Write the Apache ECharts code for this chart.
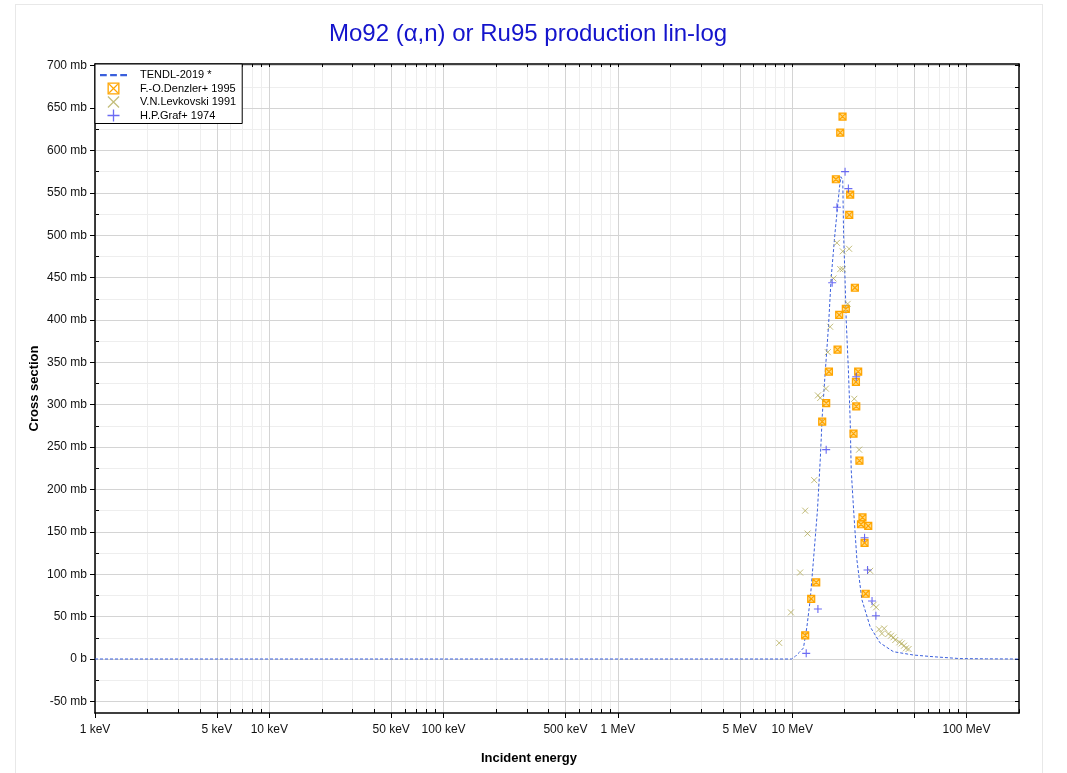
<!DOCTYPE html>
<html><head><meta charset="utf-8">
<script src="https://cdn.jsdelivr.net/npm/echarts@6/dist/echarts.min.js"></script>
<style>
html,body{margin:0;padding:0;background:#fff;}
#frame{position:absolute;left:15px;top:4px;width:1026px;height:800px;border:1px solid #e8e8e8;}
#chart{position:absolute;left:0;top:0;width:1067px;height:773px;}
</style></head>
<body><div id="frame"></div><div id="chart"></div>
<script>
// ---------------- data (energies in MeV, cross sections in mb) ----------------
const titleText = 'Mo92 (\u03b1,n) or Ru95 production lin-log';
const seriesNames = ['TENDL-2019 *', 'F.-O.Denzler+ 1995', 'V.N.Levkovski 1991', 'H.P.Graf+ 1974'];

const tendlE  = [0.001, 9.9, 10.4, 11.0, 11.6, 12.14, 12.68, 13.24, 13.96, 14.48, 14.86, 15.46, 16.14, 16.73, 17.6, 18.6, 19.0, 19.5, 19.7, 20.1, 20.4, 21.0, 21.5, 21.8, 22.5, 23.5, 25.1, 28.0, 31.9, 38.1, 49.6, 64.4, 91.7, 130, 200];
const tendlXS = [0, 0, 3, 8, 13, 38, 70, 117, 176, 235, 286, 338, 392, 450, 503, 553, 569, 565, 503, 447, 400, 341, 282, 223, 176, 117, 70, 38, 19, 8.6, 4.7, 2.7, 0.5, 0.2, 0];

const denzlerE  = [11.87, 12.85, 13.73, 14.86, 15.66, 16.24, 18.2, 18.6, 17.8, 18.86, 19.44, 20.3, 21.24, 21.5, 22.88, 23.9, 23.2, 23.3, 22.47, 24.3, 25.3, 24.8, 27.3, 26.0, 26.4];
const denzlerXS = [28, 71, 90.5, 280, 302, 339, 365, 406, 566, 621, 640, 413, 524, 548, 438, 339, 327, 298, 266, 234, 167, 159, 157, 137, 77];

const levkovskiE  = [8.42, 9.83, 11.1, 11.87, 12.24, 13.37, 14.04, 14.48, 15.6, 16.0, 16.5, 17.25, 18.05, 18.86, 19.5, 19.5, 21.2, 20.8, 22.7, 24.2, 28.0, 29.3, 30.3, 31.5, 32.7, 33.7, 35.6, 36.9, 38.1, 39.0, 41.2, 42.5, 43.8, 44.9, 46.5];
const levkovskiXS = [19, 55, 102, 175, 148, 211, 311, 308, 319, 362, 392, 449, 491, 460, 460, 481, 484, 419, 307, 247, 104, 64, 61, 35, 30, 36, 29.5, 27.5, 25.6, 22.4, 19.7, 18.4, 15.7, 12.6, 11.8];

const grafE  = [12.03, 14.04, 15.66, 16.95, 18.05, 20.1, 21.0, 23.3, 26.0, 27.05, 28.7, 30.2];
const grafXS = [6.7, 59, 247, 444, 533, 575, 555, 333, 143, 105, 68.5, 51];

// axis ticks
const xMajorTicks = [0.001, 0.005, 0.01, 0.05, 0.1, 0.5, 1, 5, 10, 50, 100];
const xTickLabels = [0.001, 0.005, 0.01, 0.05, 0.1, 0.5, 1, 5, 10, 100];
const xDecades = [0.001, 0.01, 0.1, 1, 10, 100];
const yMajorTicks = [-50, 0, 50, 100, 150, 200, 250, 300, 350, 400, 450, 500, 550, 600, 650, 700];
const yMinorTicks = [-50, -25, 0, 25, 50, 75, 100, 125, 150, 175, 200, 225, 250, 275, 300, 325, 350, 375, 400, 425, 450, 475, 500, 525, 550, 575, 600, 625, 650, 675, 700];

// ---------------- build ----------------
const xMinorTicks = [];
xDecades.forEach(d => { for (let k = 1; k <= 9; k++) { const v = k * d; if (v <= 200) xMinorTicks.push(v); } });

const FONT = '"Liberation Sans", Arial, Helvetica, sans-serif';
const X_MIN = 0.001, X_MAX = 200, Y_MIN = -63.7, Y_MAX = 702;
const zip = (a, b) => a.map((v, i) => [v, b[i]]);

const COL_TENDL = '#3a5fdc', COL_DENZ = '#ffa500', COL_LEV = '#b4ac5a', COL_GRAF = '#4646f0';
// marker symbols (stroked)
const pathBoxX = 'path://M0,0L10,0L10,10L0,10Z M0,0L10,10 M10,0L0,10';
const pathX = 'path://M0,0L10,10 M10,0L0,10';
const pathPlus = 'path://M5,0L5,10 M0,5L10,5';
// legend icons (filled outlines, exact 10x10 bounds)
const iconDash = 'path://M0,0L6,0L6,2L0,2Z M9,0L15,0L15,2L9,2Z M18,0L24,0L24,2L18,2Z';
const iconX = 'path://M0,0.75L0.75,0L10,9.25L9.25,10Z M9.25,0L10,0.75L0.75,10L0,9.25Z';
const iconPlus = 'path://M4.45,0L5.55,0L5.55,10L4.45,10Z M0,4.45L10,4.45L10,5.55L0,5.55Z';
const iconBoxX = 'path://M0,0L10,0L10,10L0,10Z M1.1,1.1L1.1,8.9L8.9,8.9L8.9,1.1Z M1.1,1.8L1.8,1.1L8.9,8.2L8.2,8.9Z M8.2,1.1L8.9,1.8L1.8,8.9L1.1,8.2Z';

function xFmt(v) {
  if (v < 1) return Math.round(v * 1000) + ' keV';
  return Math.round(v) + ' MeV';
}
function yFmt(v) { return v === 0 ? '0 b' : v + ' mb'; }

const chart = echarts.init(document.getElementById('chart'), null, { renderer: 'canvas' });
chart.setOption({
  animation: false,
  title: {
    text: titleText, left: 329, top: 22, padding: 0,
    textStyle: { color: '#1414cc', fontSize: 24, fontWeight: 'normal', fontFamily: FONT }
  },
  grid: { left: 95, right: 48, top: 64, bottom: 60 },
  legend: {
    orient: 'vertical', left: 95, top: 64, selectedMode: false,
    itemWidth: 27, itemHeight: 12, itemGap: 1.5,
    padding: [5, 6, 2, 5],
    backgroundColor: '#fff', borderColor: '#000', borderWidth: 1, borderRadius: 0,
    textStyle: { fontSize: 11, lineHeight: 12, fontFamily: FONT, color: '#000', padding: [0, 0, 0, 8] },
    data: [
      { name: seriesNames[0], icon: iconDash, itemStyle: { color: COL_TENDL, borderWidth: 0 } },
      { name: seriesNames[1], icon: iconBoxX, itemStyle: { color: COL_DENZ, borderWidth: 0 } },
      { name: seriesNames[2], icon: iconX, itemStyle: { color: COL_LEV, borderWidth: 0 } },
      { name: seriesNames[3], icon: iconPlus, itemStyle: { color: COL_GRAF, borderWidth: 0 } }
    ],
    z: 10
  },
  xAxis: [
    { // major, labels
      type: 'log', position: 'bottom', min: X_MIN, max: X_MAX, z: 1,
      name: 'Incident energy', nameLocation: 'middle', nameGap: 39, nameMoveOverlap: false,
      nameTextStyle: { fontSize: 13, fontWeight: 'bold', fontFamily: FONT, color: '#000', padding: [0, 56, 0, 0] },
      axisLine: { onZero: false, lineStyle: { color: '#000', width: 1.5 } },
      axisTick: { show: true, inside: false, length: 5, customValues: xMajorTicks, lineStyle: { color: '#000' } },
      axisLabel: { customValues: xTickLabels, formatter: xFmt, margin: 11, fontSize: 12, fontFamily: FONT, color: '#111' },
      splitLine: { show: true, lineStyle: { color: '#d4d4d4', width: 1 } }
    },
    { // minor
      type: 'log', position: 'bottom', min: X_MIN, max: X_MAX, z: 0,
      axisLine: { show: false, onZero: false },
      axisTick: { show: true, inside: true, length: 4, customValues: xMinorTicks, lineStyle: { color: '#000' } },
      axisLabel: { show: false },
      splitLine: { show: true, lineStyle: { color: '#eeeeee', width: 1 } }
    },
    { // top frame
      type: 'log', position: 'top', min: X_MIN, max: X_MAX, z: 1,
      axisLine: { show: true, onZero: false, lineStyle: { color: '#000', width: 1.5 } },
      axisTick: { show: true, inside: true, length: 3, customValues: xMinorTicks, lineStyle: { color: '#000' } },
      axisLabel: { show: false },
      splitLine: { show: false }
    }
  ],
  yAxis: [
    { // major, labels
      type: 'value', position: 'left', min: Y_MIN, max: Y_MAX, z: 1,
      name: 'Cross section', nameLocation: 'middle', nameGap: 54, nameMoveOverlap: false,
      nameTextStyle: { fontSize: 13, fontWeight: 'bold', fontFamily: FONT, color: '#000' },
      axisLine: { show: true, onZero: false, lineStyle: { color: '#000', width: 1.5 } },
      axisTick: { show: true, inside: false, length: 5, customValues: yMajorTicks, lineStyle: { color: '#000' } },
      axisLabel: { customValues: yMajorTicks, formatter: yFmt, margin: 8, fontSize: 12, fontFamily: FONT, color: '#111' },
      splitLine: { show: true, lineStyle: { color: '#d4d4d4', width: 1 } }
    },
    { // minor
      type: 'value', position: 'left', min: Y_MIN, max: Y_MAX, z: 0,
      axisLine: { show: false, onZero: false },
      axisTick: { show: true, inside: true, length: 4, customValues: yMinorTicks, lineStyle: { color: '#000' } },
      axisLabel: { show: false },
      splitLine: { show: true, lineStyle: { color: '#eeeeee', width: 1 } }
    },
    { // right frame
      type: 'value', position: 'right', min: Y_MIN, max: Y_MAX, z: 1,
      axisLine: { show: true, onZero: false, lineStyle: { color: '#000', width: 1.5 } },
      axisTick: { show: true, inside: true, length: 4, customValues: yMinorTicks, lineStyle: { color: '#000' } },
      axisLabel: { show: false },
      splitLine: { show: false }
    }
  ],
  series: [
    {
      name: seriesNames[0], type: 'line', xAxisIndex: 0, yAxisIndex: 0, z: 3,
      data: zip(tendlE, tendlXS), symbol: 'none', showSymbol: false,
      lineStyle: { color: COL_TENDL, width: 1, type: [3, 2] },
      itemStyle: { color: COL_TENDL }
    },
    {
      name: seriesNames[1], type: 'scatter', xAxisIndex: 0, yAxisIndex: 0, z: 4,
      data: zip(denzlerE, denzlerXS), symbol: pathBoxX, symbolSize: 7,
      itemStyle: { color: 'rgba(255,190,40,0.55)', borderColor: COL_DENZ, borderWidth: 1.2, opacity: 1 }
    },
    {
      name: seriesNames[2], type: 'scatter', xAxisIndex: 0, yAxisIndex: 0, z: 5,
      data: zip(levkovskiE, levkovskiXS), symbol: pathX, symbolSize: 6,
      itemStyle: { color: 'rgba(255,255,255,0)', borderColor: COL_LEV, borderWidth: 1 }
    },
    {
      name: seriesNames[3], type: 'scatter', xAxisIndex: 0, yAxisIndex: 0, z: 6,
      data: zip(grafE, grafXS), symbol: pathPlus, symbolSize: 8,
      itemStyle: { color: 'rgba(255,255,255,0)', borderColor: COL_GRAF, borderWidth: 1.1 }
    }
  ]
});
</script></body></html>
